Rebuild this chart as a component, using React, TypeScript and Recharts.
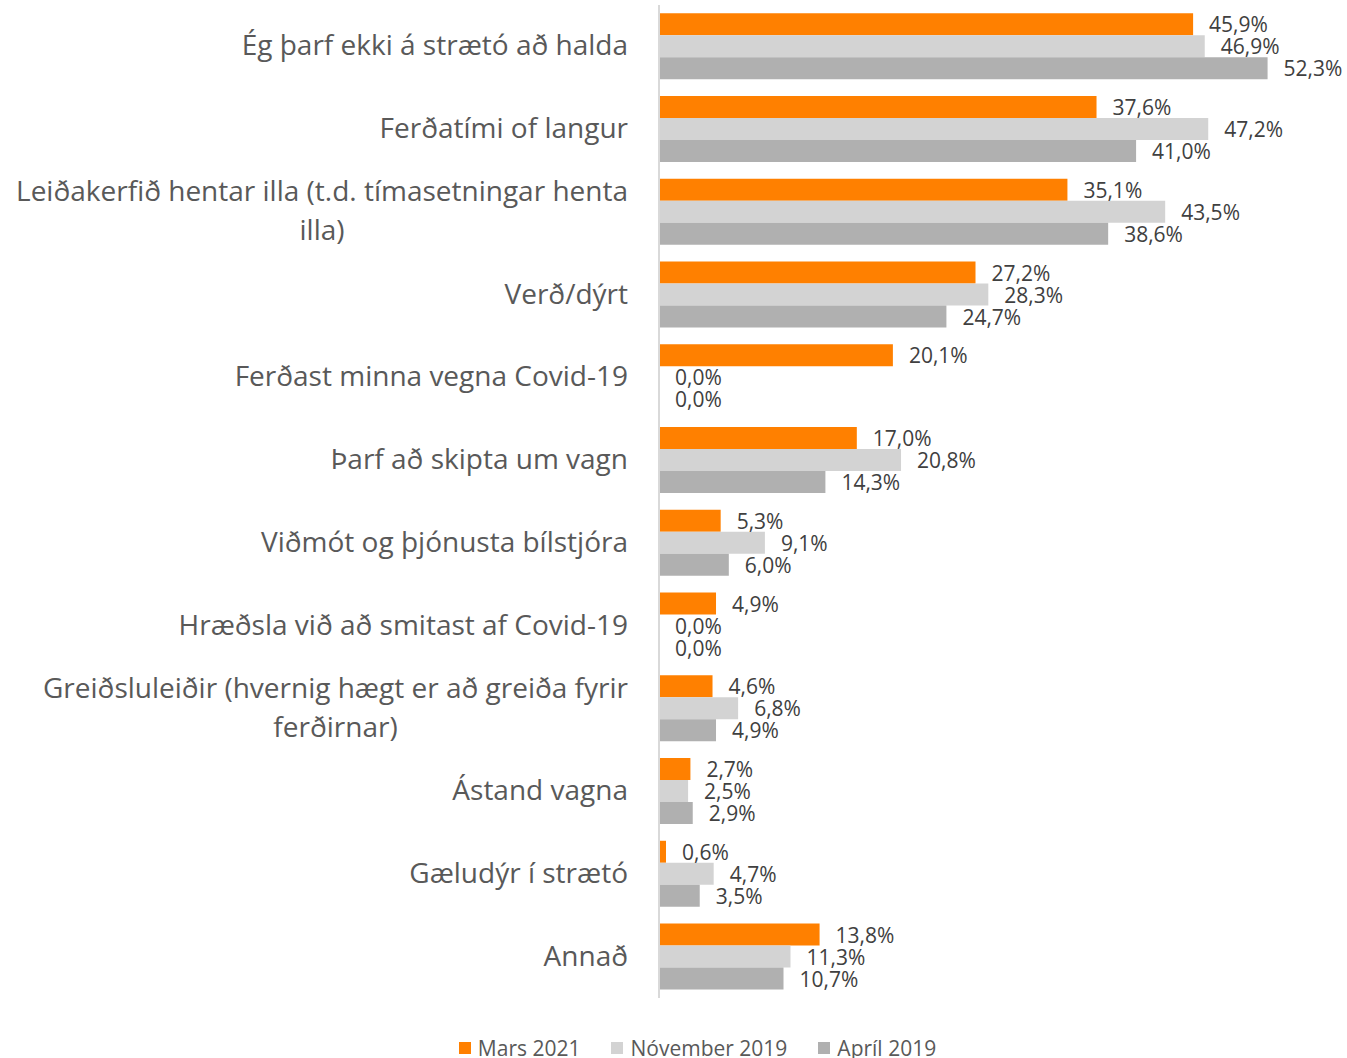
import { BarChart, Bar, XAxis, YAxis, LabelList, Legend } from "recharts";

const categories = [
  "Ég þarf ekki á strætó að halda",
  "Ferðatími of langur",
  "Leiðakerfið hentar illa (t.d. tímasetningar henta illa)",
  "Verð/dýrt",
  "Ferðast minna vegna Covid-19",
  "Þarf að skipta um vagn",
  "Viðmót og þjónusta bílstjóra",
  "Hræðsla við að smitast af Covid-19",
  "Greiðsluleiðir (hvernig hægt er að greiða fyrir ferðirnar)",
  "Ástand vagna",
  "Gæludýr í strætó",
  "Annað",
];

const mars2021 = [45.9, 37.6, 35.1, 27.2, 20.1, 17.0, 5.3, 4.9, 4.6, 2.7, 0.6, 13.8];
const november2019 = [46.9, 47.2, 43.5, 28.3, 0, 20.8, 9.1, 0, 6.8, 2.5, 4.7, 11.3];
const april2019 = [52.3, 41.0, 38.6, 24.7, 0, 14.3, 6.0, 0, 4.9, 2.9, 3.5, 10.7];

const seriesNames = ["Mars 2021", "Nóvember 2019", "Apríl 2019"];
const seriesColors = ["#FF8000", "#D3D3D3", "#B0B0B0"];

const data = categories.map((name, i) => ({
  name,
  mars: mars2021[i],
  nov: november2019[i],
  apr: april2019[i],
}));

const FONT = "'Open Sans', sans-serif";
const LABEL_SIZE = 28;
const LABEL_MAX = 618;
const LABEL_RIGHT = 628;

// wrap a category label to fit the left side
let ctx: CanvasRenderingContext2D | null = null;
const measure = (s: string) => {
  if (!ctx) ctx = document.createElement("canvas").getContext("2d");
  if (!ctx) return s.length * 13;
  ctx.font = `${LABEL_SIZE}px ${FONT}`;
  return ctx.measureText(s).width;
};
const wrap = (text: string) => {
  const words = text.split(" ");
  const lines: string[] = [];
  let cur = "";
  words.forEach((w) => {
    const next = cur ? cur + " " + w : w;
    if (measure(next) > LABEL_MAX && cur) {
      lines.push(cur);
      cur = w;
    } else cur = next;
  });
  if (cur) lines.push(cur);
  return lines;
};

const CategoryTick = (props: any) => {
  const { y, payload } = props;
  const lines = wrap(payload.value);
  const lh = 39;
  const start = y - 2 - ((lines.length - 1) * lh) / 2;
  // wrapped labels are centred as a block, block is right aligned
  const multi = lines.length > 1;
  const maxW = Math.max(...lines.map(measure));
  const ax = multi ? LABEL_RIGHT - maxW / 2 : LABEL_RIGHT;
  return (
    <text
      x={ax}
      y={start}
      textAnchor={multi ? "middle" : "end"}
      fill="#595959"
      fontSize={LABEL_SIZE}
      fontFamily={FONT}
      dominantBaseline="central"
    >
      {lines.map((l, i) => (
        <tspan key={i} x={ax} y={start + i * lh}>
          {l}
        </tspan>
      ))}
    </text>
  );
};

const fmt = (v: any) => Number(v).toFixed(1).replace(".", ",") + "%";

// zero-width bars still get their label
const ValueLabel = (props: any) => {
  const { x, y, width, height, value } = props;
  return (
    <text
      x={Number(x) + Number(width || 0) + 16}
      y={Number(y) + Number(height) / 2}
      fill="#404040"
      fontSize={21}
      fontFamily={FONT}
      dominantBaseline="central"
    >
      {fmt(value)}
    </text>
  );
};

const LegendContent = () => (
  <div
    style={{
      display: "flex",
      justifyContent: "center",
      gap: 31,
      fontFamily: FONT,
      fontSize: 21,
      color: "#595959",
      paddingLeft: 48,
      marginBottom: -4,
    }}
  >
    {seriesNames.map((n, i) => (
      <div key={n} style={{ display: "flex", alignItems: "center" }}>
        <span
          style={{
            width: 12,
            height: 12,
            background: seriesColors[i],
            display: "inline-block",
            marginRight: 7,
          }}
        />
        {n}
      </div>
    ))}
  </div>
);

export default function App() {
  const keys = ["mars", "nov", "apr"];
  return (
    <div style={{ position: "absolute", left: 0, top: 0, background: "#fff" }}>
      <BarChart
        width={1347}
        height={1058}
        data={data}
        layout="vertical"
        margin={{ top: 5, right: 48, left: 0, bottom: 36 }}
        barCategoryGap="10%"
        barGap={0}
      >
        <XAxis type="number" domain={[0, 55]} hide />
        <YAxis
          type="category"
          dataKey="name"
          width={659}
          tickLine={false}
          axisLine={{ stroke: "#D9D9D9", strokeWidth: 2 }}
          tick={<CategoryTick />}
          interval={0}
        />
        {keys.map((k, i) => (
          <Bar
            key={k}
            dataKey={k}
            name={seriesNames[i]}
            fill={seriesColors[i]}
            minPointSize={0.01}
            isAnimationActive={false}
          >
            <LabelList dataKey={k} content={<ValueLabel />} />
          </Bar>
        ))}
        <Legend
          verticalAlign="bottom"
          content={<LegendContent />}
          wrapperStyle={{ left: 0, width: 1347, bottom: 0 }}
        />
      </BarChart>
    </div>
  );
}
